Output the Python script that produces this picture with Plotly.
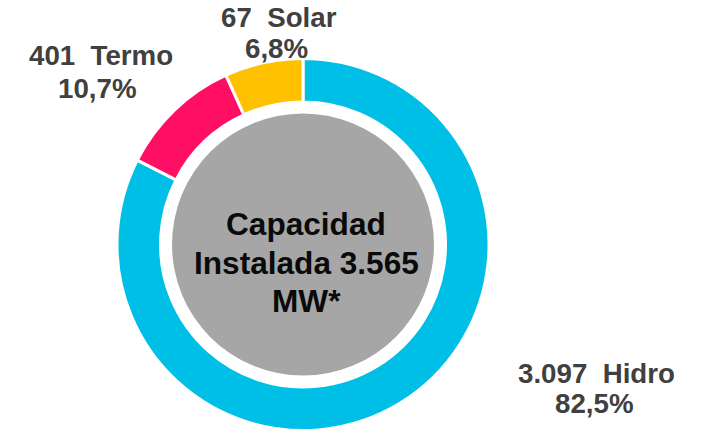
import plotly.graph_objects as go

# ---- data ----
technologies = ["Hidro", "Termo", "Solar"]
capacity_mw = [3097, 401, 67]
share_pct = [82.5, 10.7, 6.8]
slice_colors = ["#00BFE6", "#FF0F64", "#FFC000"]
center_title = ["Capacidad", "Instalada"]
center_unit = "MW*"

W, H = 705, 432
CX, CY, R_OUT = 303, 244.5, 186
R_GREY = 131


def fmt_int(v):
    return f"{v:,}".replace(",", ".")


def fmt_pct(v):
    return f"{v:.1f}".replace(".", ",") + "%"


def px(x):
    return x / W


def py(y):
    return 1 - y / H


fig = go.Figure()
fig.add_trace(go.Pie(
    labels=technologies,
    values=share_pct,
    sort=False,
    direction="clockwise",
    rotation=0,
    hole=142.5 / R_OUT,
    marker=dict(colors=slice_colors, line=dict(color="white", width=3)),
    textinfo="none",
    hoverinfo="label+value",
    showlegend=False,
    domain=dict(x=[px(CX - R_OUT), px(CX + R_OUT)],
                y=[max(0, py(CY + R_OUT)), py(CY - R_OUT)]),
))

shapes = [dict(type="circle", xref="paper", yref="paper",
               x0=px(CX - R_GREY), x1=px(CX + R_GREY),
               y0=py(CY + R_GREY), y1=py(CY - R_GREY),
               fillcolor="#A6A6A6", line=dict(width=0), layer="below")]

font_lbl = dict(family="Liberation Sans, Arial, sans-serif", size=27.7, color="#404040")
font_ctr = dict(family="Liberation Sans, Arial, sans-serif", size=31.6, color="#0A0A0A")

label_pos = {
    "Hidro": [(596.5, 373), (594, 403)],
    "Termo": [(100.5, 55), (97.5, 88)],
    "Solar": [(279, 17), (276, 48)],
}

annotations = []
for name, cap, sh in zip(technologies, capacity_mw, share_pct):
    lines = [f"<b>{fmt_int(cap)}\u00a0 {name}</b>", f"<b>{fmt_pct(sh)}</b>"]
    for (x, y), t in zip(label_pos[name], lines):
        annotations.append(dict(x=px(x), y=py(y), xref="paper", yref="paper",
                                text=t, showarrow=False, font=font_lbl,
                                xanchor="center", yanchor="middle", borderpad=0))

total = sum(capacity_mw)
center_lines = [center_title[0], f"{center_title[1]} {fmt_int(total)}", center_unit]
for t, y in zip(center_lines, [224, 263, 301]):
    annotations.append(dict(x=px(306), y=py(y), xref="paper", yref="paper",
                            text=f"<b>{t}</b>", showarrow=False, font=font_ctr,
                            xanchor="center", yanchor="middle"))

fig.update_layout(
    width=W, height=H,
    margin=dict(l=0, r=0, t=0, b=0),
    paper_bgcolor="white", plot_bgcolor="white",
    shapes=shapes, annotations=annotations,
)

fig.write_html("out.html",
               config={"displayModeBar": False},
               post_script="document.body.style.margin='0';document.body.style.overflow='hidden';")
